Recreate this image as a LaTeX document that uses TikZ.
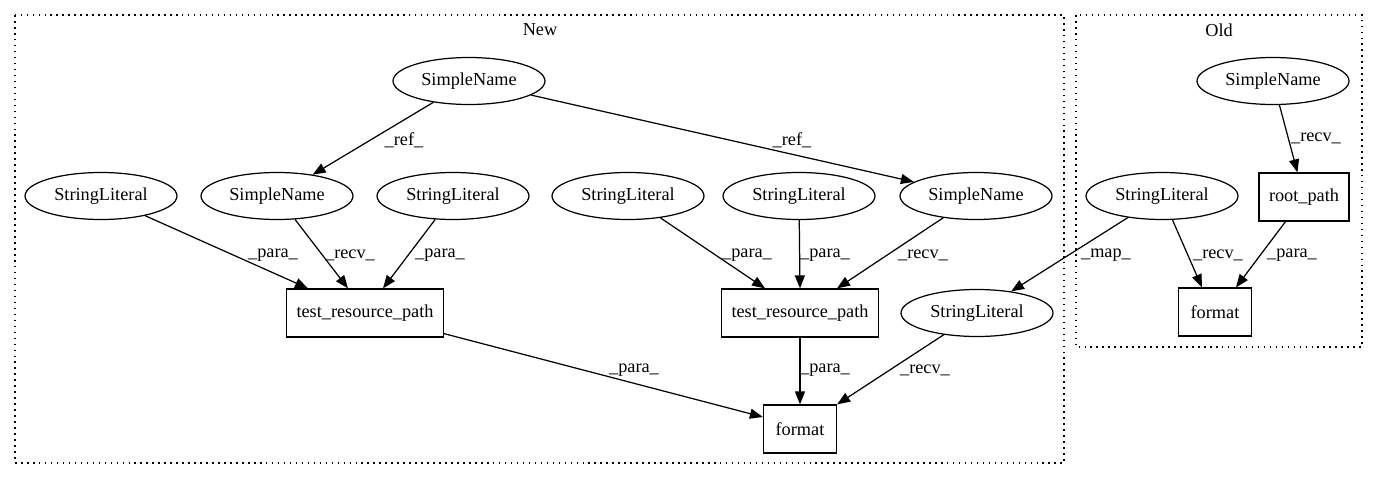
\documentclass[tikz,border=0pt]{standalone}
\usepackage{fontspec}
\setmainfont{Liberation Serif}
\usetikzlibrary{shapes.geometric, arrows.meta}

\begin{document}
\begin{tikzpicture}[x=0.02cm, y=-0.02cm,
	every node/.style={font=\fontsize{10.4}{12}\selectfont},
	ast/.style={draw, ellipse, minimum width=3.04cm, minimum height=0.94cm, inner sep=0pt, line width=0.7pt},
	call/.style={draw, rectangle, minimum height=0.96cm, inner sep=0pt, line width=0.7pt},
	dep/.style={-{Triangle[length=0.26cm, width=0.2cm]}, line width=0.7pt},
	clust/.style={draw, line width=0.7pt, dash pattern=on 0.9pt off 2.5pt}]
	\useasboundingbox (0, 0) rectangle (1376, 480);

	\draw[clust] (15, 15) rectangle (1064, 463);
	\draw[clust] (1076, 15) rectangle (1362, 347);
	\node (new) at (540, 30) {New};
	\node (old) at (1219, 30) {Old};

	\node[ast] (sn) at (469, 81) {SimpleName};
	\node[ast] (sl1) at (101, 196) {StringLiteral};
	\node[ast] (snl) at (277, 196) {SimpleName};
	\node[ast] (sl2) at (453, 196) {StringLiteral};
	\node[ast] (sl3) at (628, 196) {StringLiteral};
	\node[ast] (sl4) at (799, 196) {StringLiteral};
	\node[ast] (snr) at (976, 196) {SimpleName};
	\node[call, minimum width=3.14cm] (trpl) at (365, 313) {test\_resource\_path};
	\node[call, minimum width=3.14cm] (trpr) at (800, 313) {test\_resource\_path};
	\node[ast] (sln) at (977, 313) {StringLiteral};
	\node[call, minimum width=1.46cm] (fmt) at (800, 429) {format};

	\node[ast] (osn) at (1273, 81) {SimpleName};
	\node[ast] (osl) at (1162, 196) {StringLiteral};
	\node[call, minimum width=1.8cm] (root) at (1304, 197) {root\_path};
	\node[call, minimum width=1.46cm] (ofmt) at (1215, 312) {format};

	\draw[dep] (sn) -- (snl);
	\draw[dep] (sn) -- (snr);
	\draw[dep] (sl1) -- ([xshift=-1.14cm]trpl.north);
	\draw[dep] (snl) -- ([xshift=-0.34cm]trpl.north);
	\draw[dep] (sl2) -- ([xshift=0.36cm]trpl.north);
	\draw[dep] (sl3) -- ([xshift=-0.7cm]trpr.north);
	\draw[dep] (sl4) -- (trpr.north);
	\draw[dep] (snr) -- ([xshift=0.74cm]trpr.north);
	\draw[dep] (trpl) -- ([yshift=0.24cm]fmt.west);
	\draw[dep] (trpr) -- (fmt.north);
	\draw[dep] (sln) -- (fmt.north east);
	\draw[dep] (osl) -- (sln);
	\draw[dep] (osl) -- ([xshift=-0.26cm]ofmt.north);
	\draw[dep] (root) -- ([xshift=0.42cm]ofmt.north);
	\draw[dep] (osn) -- (root);

	\node (l1) at (404, 140) {\_ref\_};
	\node (l2) at (792, 140) {\_ref\_};
	\node (l3) at (273, 255) {\_para\_};
	\node (l4) at (350, 255) {\_recv\_};
	\node (l5) at (440, 255) {\_para\_};
	\node (l6) at (747, 255) {\_para\_};
	\node (l7) at (825, 255) {\_para\_};
	\node (l8) at (923, 255) {\_recv\_};
	\node (l9) at (634, 370) {\_para\_};
	\node (l10) at (825, 370) {\_para\_};
	\node (l11) at (925, 370) {\_recv\_};
	\node (l12) at (1106, 255) {\_map\_};
	\node (l13) at (1218, 255) {\_recv\_};
	\node (l14) at (1292, 255) {\_para\_};
	\node (l15) at (1316, 138) {\_recv\_};
\end{tikzpicture}
\end{document}
